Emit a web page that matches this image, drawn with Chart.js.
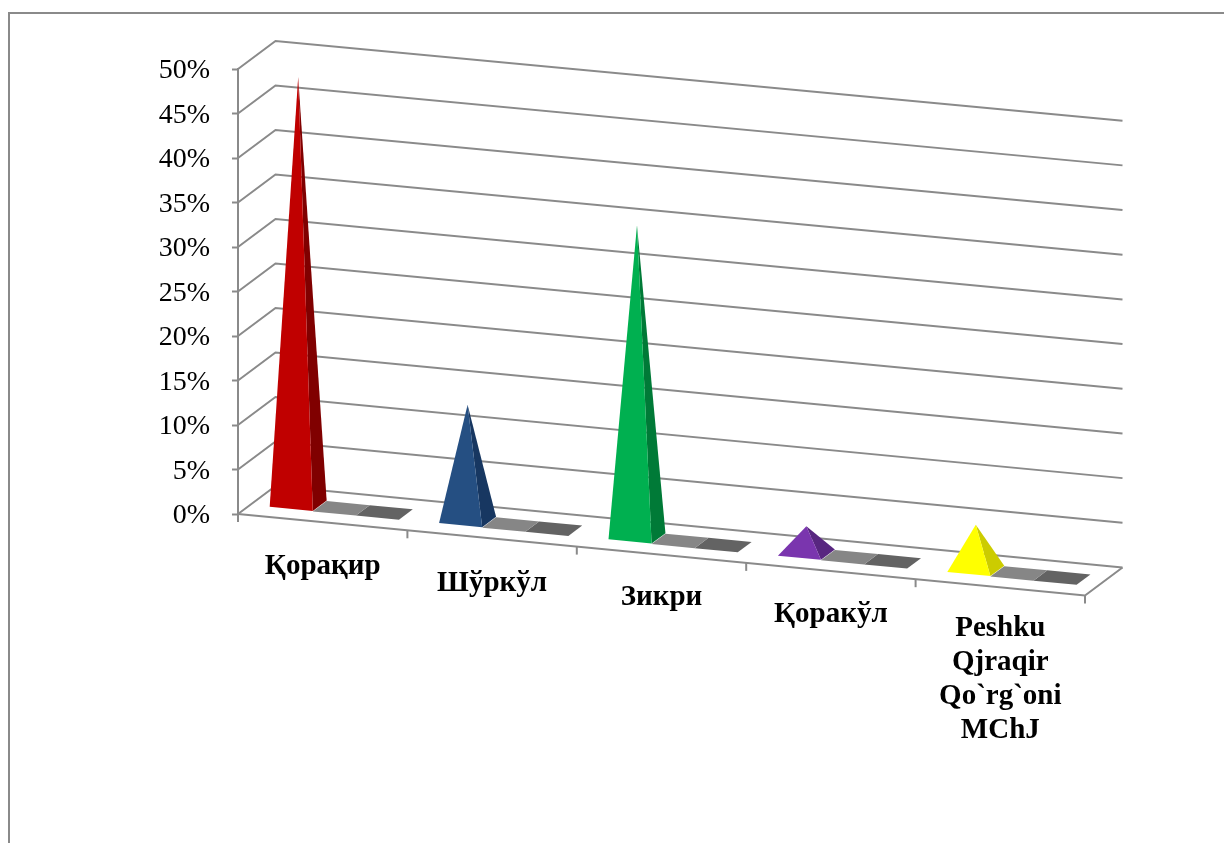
<!DOCTYPE html>
<html>
<head>
<meta charset="utf-8">
<style>html,body{margin:0;padding:0;background:#fff}canvas{display:block}</style>
<script src="https://cdn.jsdelivr.net/npm/chart.js@4"></script>
</head>
<body>
<canvas id="c" width="1224" height="843"></canvas>
<script>
const categories = ["Қорақир", "Шўркўл", "Зикри", "Қоракўл", ["Peshku", "Qjraqir", "Qo`rg`oni", "MChJ"]];
const series1 = [48, 13, 35, 3, 5];
const series2 = [0, 0, 0, 0, 0];
const series3 = [0, 0, 0, 0, 0];
const frontColors = ["#C00000", "#254F82", "#00B050", "#7A35AE", "#FFFF00"];
const sideColors = ["#800000", "#173761", "#007A37", "#582680", "#CCCC00"];
const tickValues = { min: 0, max: 50, step: 5 };

const LINE = "#8A8A8A";
const SHEAR = 0.0962, DEPTH_X = 37.5, DEPTH_Y = 28, WALL_SPREAD = 1.004;
const FRONT = 0.31, BACK = 0.68;
const LABEL_OFFSET = 41, LABEL_LINE = 34;
const LABEL_NUDGE = [3, 4, 2, 2, 0];
const LABEL_FONT = 'bold 29px "Liberation Serif"';

function projector(chart) {
  const x0 = chart.chartArea.left;
  return (x, y, d) => [x + d * DEPTH_X, y + (x - x0) * SHEAR - d * DEPTH_Y];
}
function poly(ctx, pts, fill) {
  ctx.beginPath();
  pts.forEach((p, i) => i ? ctx.lineTo(p[0], p[1]) : ctx.moveTo(p[0], p[1]));
  ctx.closePath();
  ctx.fillStyle = fill;
  ctx.fill();
}
function line(ctx, pts) {
  ctx.beginPath();
  pts.forEach((p, i) => i ? ctx.lineTo(p[0], p[1]) : ctx.moveTo(p[0], p[1]));
  ctx.stroke();
}

const pyramid3d = {
  id: "pyramid3d",
  beforeDraw(chart) {
    const ctx = chart.ctx;
    ctx.save();
    ctx.strokeStyle = LINE;
    ctx.lineWidth = 2;
    line(ctx, [[9, 843], [9, 13], [1224, 13]]);
    ctx.restore();
  },
  beforeDatasetsDraw(chart) {
    const ctx = chart.ctx, p = projector(chart);
    const xs = chart.scales.x, ys = chart.scales.y;
    const L = chart.chartArea.left, R = chart.chartArea.right;
    const y0 = ys.getPixelForValue(0);
    ctx.save();
    ctx.strokeStyle = LINE;
    ctx.lineWidth = 2;
    ys.ticks.forEach(t => {
      const y = ys.getPixelForValue(t.value);
      const yr = y0 - (y0 - y) * WALL_SPREAD;
      line(ctx, [p(L, y, 0), p(L, y, 1), p(R, yr, 1)]);
    });
    line(ctx, [p(L, y0, 0), p(R, y0, 0), p(R, y0, 1)]);
    for (let i = 0; i <= categories.length; i++) {
      const x = xs.getPixelForValue(i - 0.5);
      const a = p(x, y0, 0);
      line(ctx, [a, [a[0], a[1] + 8]]);
    }
    ctx.restore();
  },
  beforeDatasetDraw() { return false; },
  afterDatasetsDraw(chart) {
    const ctx = chart.ctx, p = projector(chart);
    const count = categories.length;
    for (let i = 0; i < count; i++) {
      [2, 1, 0].forEach(di => {
        const ds = chart.data.datasets[di];
        const el = chart.getDatasetMeta(di).data[i];
        const l = el.x - el.width / 2, r = el.x + el.width / 2, b = el.base;
        const fl = p(l, b, FRONT), fr = p(r, b, FRONT), br = p(r, b, BACK), bl = p(l, b, BACK);
        if (el.y === el.base) {
          poly(ctx, [fl, fr, br, bl], ds.backgroundColor);
        } else {
          const dc = p(el.x, el.y, (FRONT + BACK) / 2);
          poly(ctx, [fr, br, dc], ds.sideColor[i]);
          poly(ctx, [fl, fr, dc], ds.backgroundColor[i]);
        }
      });
    }
    // category labels follow the sloping floor edge
    const xs = chart.scales.x, y0 = chart.scales.y.getPixelForValue(0);
    ctx.save();
    ctx.font = LABEL_FONT;
    ctx.fillStyle = "#000";
    ctx.textAlign = "center";
    ctx.textBaseline = "middle";
    categories.forEach((c, i) => {
      const x = xs.getPixelForValue(i);
      const y = p(x, y0, 0)[1] + LABEL_OFFSET + LABEL_NUDGE[i];
      [].concat(c).forEach((s, k) => ctx.fillText(s, x, y + k * LABEL_LINE));
    });
    ctx.restore();
  }
};

new Chart(document.getElementById("c"), {
  type: "bar",
  data: {
    labels: categories,
    datasets: [
      { label: "Ряд 1", data: series1, backgroundColor: frontColors, sideColor: sideColors },
      { label: "Ряд 2", data: series2, backgroundColor: "#868686" },
      { label: "Ряд 3", data: series3, backgroundColor: "#636363" }
    ]
  },
  options: {
    responsive: false,
    animation: false,
    devicePixelRatio: 1,
    categoryPercentage: 0.763,
    barPercentage: 1,
    layout: { padding: { left: 0, top: 69, right: 139, bottom: 329 } },
    plugins: { legend: { display: false }, tooltip: { enabled: false }, title: { display: false } },
    scales: {
      x: {
        grid: { display: false },
        border: { display: false },
        ticks: { display: false },
        afterFit(s) { s.height = 0; }
      },
      y: {
        min: tickValues.min,
        max: tickValues.max,
        afterFit(s) { s.width = 238; },
        grid: { drawOnChartArea: false, drawTicks: true, tickLength: 6, tickColor: LINE, tickWidth: 2 },
        border: { color: LINE, width: 2 },
        ticks: {
          stepSize: tickValues.step,
          padding: 22,
          labelOffset: 2,
          color: "#000",
          font: { family: '"Liberation Serif"', size: 28 },
          callback: v => v + "%"
        }
      }
    }
  },
  plugins: [pyramid3d]
});
</script>
</body>
</html>
